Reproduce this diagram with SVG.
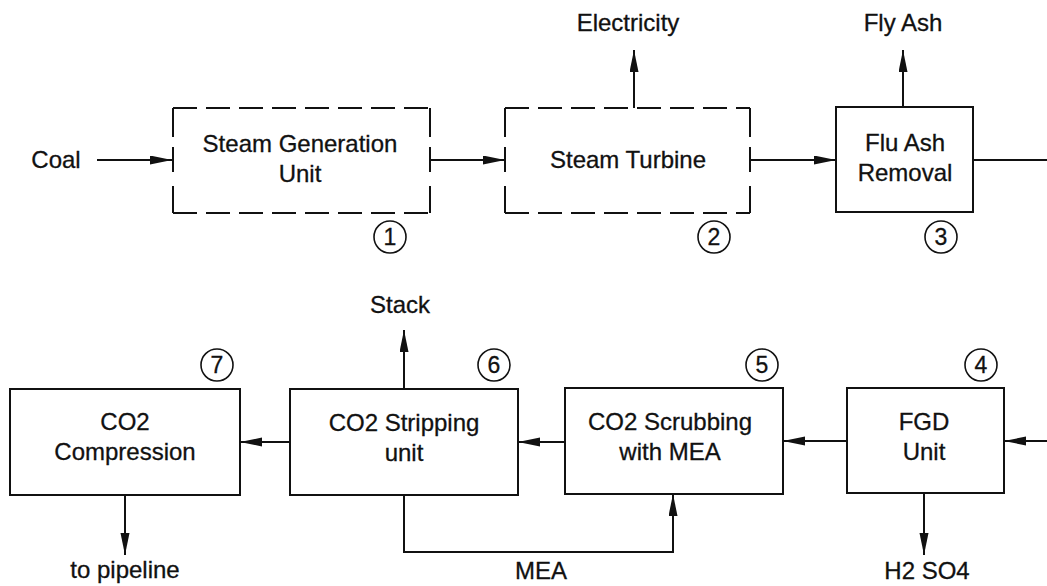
<svg xmlns="http://www.w3.org/2000/svg" width="1047" height="586" viewBox="0 0 1047 586">
<style>
text{font-family:"Liberation Sans",Arial,sans-serif;font-size:24px;fill:#111;text-anchor:middle;stroke:#111;stroke-width:0.3}
.box{fill:none;stroke:#111;stroke-width:2}
.dash{fill:none;stroke:#111;stroke-width:2;stroke-dasharray:24,9}
.side{fill:none;stroke:#111;stroke-width:2}
.num{fill:none;stroke:#111;stroke-width:1.6}
.c{fill:none;stroke:#111;stroke-width:2}
.n{font-size:23px}
</style>
<defs>
<marker id="ah" markerUnits="userSpaceOnUse" markerWidth="24" markerHeight="10" refX="22" refY="4.5" orient="auto">
<path d="M0,0 L22,4.5 L0,9 z" fill="#111"/>
</marker>
</defs>
<rect width="1047" height="586" fill="#fff"/>
<g id="connectors">
<path class="c" d="M97,160 H172" marker-end="url(#ah)"/>
<path class="c" d="M430,160 H505" marker-end="url(#ah)"/>
<path class="c" d="M634,108 V50" marker-end="url(#ah)"/>
<path class="c" d="M750,160 H836" marker-end="url(#ah)"/>
<path class="c" d="M903,107 V50" marker-end="url(#ah)"/>
<path class="c" d="M973,160 H1047"/>
<path class="c" d="M1047,441 H1004" marker-end="url(#ah)"/>
<path class="c" d="M847,441 H783" marker-end="url(#ah)"/>
<path class="c" d="M565,442 H518" marker-end="url(#ah)"/>
<path class="c" d="M290,442 H240" marker-end="url(#ah)"/>
<path class="c" d="M404,389 V330" marker-end="url(#ah)"/>
<path class="c" d="M404,495 V552 H673 V494" marker-end="url(#ah)"/>
<path class="c" d="M924,493 V555" marker-end="url(#ah)"/>
<path class="c" d="M125,495 V555" marker-end="url(#ah)"/>
</g>
<g id="labels">
<text x="56" y="168">Coal</text>
<text x="628" y="31">Electricity</text>
<text x="903" y="31">Fly Ash</text>
<text x="400" y="313">Stack</text>
<text x="125" y="578">to pipeline</text>
<text x="541" y="579">MEA</text>
<text x="927" y="579">H2 SO4</text>
</g>
<g id="n1">
<path class="dash" d="M173,108 H430 M173,213 H430"/>
<path class="side" d="M173,108 V137 M173,147 V172 M173,186 V213 M430,108 V137 M430,147 V172 M430,186 V213"/>
<text x="300" y="152">Steam Generation</text>
<text x="300" y="182">Unit</text>
<circle class="num" cx="390" cy="237" r="16"/>
<text class="n" x="390" y="245">1</text>
</g>
<g id="n2">
<path class="dash" d="M505,108 H750 M505,213 H750"/>
<path class="side" d="M505,108 V137 M505,147 V172 M505,186 V213 M750,108 V137 M750,147 V172 M750,186 V213"/>
<text x="628" y="168">Steam Turbine</text>
<circle class="num" cx="714" cy="237" r="16"/>
<text class="n" x="714" y="245">2</text>
</g>
<g id="n3">
<rect class="box" x="836" y="107" width="137" height="105"/>
<text x="905" y="151">Flu Ash</text>
<text x="905" y="181">Removal</text>
<circle class="num" cx="941" cy="237" r="16"/>
<text class="n" x="941" y="245">3</text>
</g>
<g id="n4">
<rect class="box" x="847" y="388" width="157" height="105"/>
<text x="924" y="430">FGD</text>
<text x="924" y="460">Unit</text>
<circle class="num" cx="981" cy="365" r="16"/>
<text class="n" x="981" y="373">4</text>
</g>
<g id="n5">
<rect class="box" x="565" y="388" width="218" height="106"/>
<text x="670" y="430">CO2 Scrubbing</text>
<text x="670" y="460">with MEA</text>
<circle class="num" cx="762" cy="365" r="16"/>
<text class="n" x="762" y="373">5</text>
</g>
<g id="n6">
<rect class="box" x="290" y="389" width="228" height="106"/>
<text x="404" y="431">CO2 Stripping</text>
<text x="404" y="461">unit</text>
<circle class="num" cx="494" cy="365" r="16"/>
<text class="n" x="494" y="373">6</text>
</g>
<g id="n7">
<rect class="box" x="10" y="389" width="230" height="106"/>
<text x="125" y="430">CO2</text>
<text x="125" y="460">Compression</text>
<circle class="num" cx="217" cy="365" r="16"/>
<text class="n" x="217" y="373">7</text>
</g>
</svg>
